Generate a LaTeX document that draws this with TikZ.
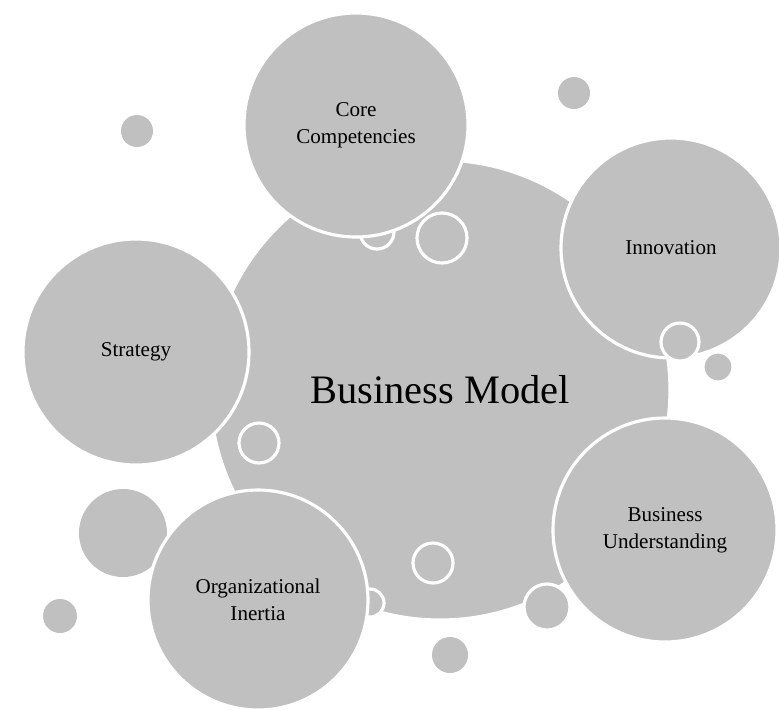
\documentclass[tikz,border=0pt]{standalone}
\usepackage{fontspec}
\setmainfont{Liberation Serif}
\definecolor{bubblegray}{RGB}{192,192,192}

\begin{document}
\begin{tikzpicture}[
  bubble/.style={circle, fill=bubblegray, draw=white, line width=0.9pt, inner sep=0pt,
    align=center, font=\fontsize{6}{7.6}\selectfont},
  dot/.style={fill=bubblegray},
  ring/.style={fill=bubblegray, draw=white, line width=0.9pt}]
\useasboundingbox (0,0) rectangle (7.79,-7.09);
% loose dots in the background
\fill[dot] (1.37,-1.31) circle (0.16);
\fill[dot] (5.74,-0.93) circle (0.16);
\fill[dot] (1.23,-5.33) circle (0.44);
\fill[dot] (0.60,-6.16) circle (0.17);
\fill[dot] (4.50,-6.55) circle (0.18);
%\fill[dot] (7.18,-3.67) circle (0.15);
\filldraw[ring] (7.18,-3.67) circle (0.15);
% the centre
\node[bubble, minimum size=4.6cm, font=\fontsize{11.5}{14}\selectfont] (model) at (4.40,-3.90) {Business Model};
% small rings lying under the outer bubbles
\filldraw[ring] (3.77,-2.32) circle (0.17);
\filldraw[ring] (3.70,-6.03) circle (0.14);
\filldraw[ring] (2.59,-4.43) circle (0.20);
\filldraw[ring] (4.33,-5.63) circle (0.20);
% outer bubbles
\node[bubble, minimum size=2.24cm] (core) at (3.56,-1.25) {Core\\Competencies};
\node[bubble, minimum size=2.20cm] (innov) at (6.71,-2.48) {Innovation};
\node[bubble, minimum size=2.26cm] (strat) at (1.36,-3.52) {Strategy};
\node[bubble, minimum size=2.24cm] (underst) at (6.65,-5.30) {Business\\Understanding};
\node[bubble, minimum size=2.20cm] (inertia) at (2.58,-6.00) {Organizational\\Inertia};
% rings on top
\filldraw[ring] (4.42,-2.38) circle (0.25);
\filldraw[ring] (6.80,-3.42) circle (0.19);
\filldraw[ring] (5.47,-6.07) circle (0.23);
\end{tikzpicture}
\end{document}
